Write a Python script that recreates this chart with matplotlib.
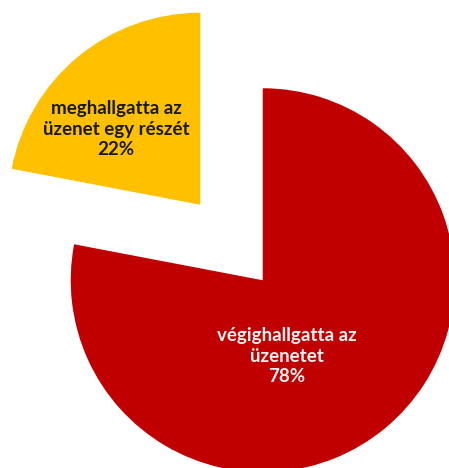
import matplotlib
matplotlib.use("Agg")
import matplotlib.pyplot as plt

categories = ["végighallgatta az\nüzenetet", "meghallgatta az\nüzenet egy részét"]
values = [78, 22]
colors = ["#C00000", "#FFC000"]
text_colors = ["#F2F2F2", "#1A1A1A"]

W, H = 449, 468
fig = plt.figure(figsize=(W / 100, H / 100), dpi=100)
ax = fig.add_axes([0, 0, 1, 1])

R = 192
center = (231.5, 225.5)
gap = 49  # explode offset in data units
wedges, _ = ax.pie(values, colors=colors, startangle=90, counterclock=False,
                   radius=R, center=center, explode=[gap, gap], frame=True,
                   wedgeprops=dict(linewidth=0))
ax.set_xlim(0, W)
ax.set_ylim(0, H)
ax.set_aspect("equal")
ax.axis("off")

label_pos = [(287, H - 356), (116, H - 129)]
for cat, v, pos, tc in zip(categories, values, label_pos, text_colors):
    ax.text(pos[0], pos[1], f"{cat}\n{v}%", ha="center", va="center",
            color=tc, fontsize=13.5, fontweight="bold", family=["Lato", "DejaVu Sans"],
            linespacing=1.25)

fig.savefig("out.png", dpi=100, facecolor="white")
